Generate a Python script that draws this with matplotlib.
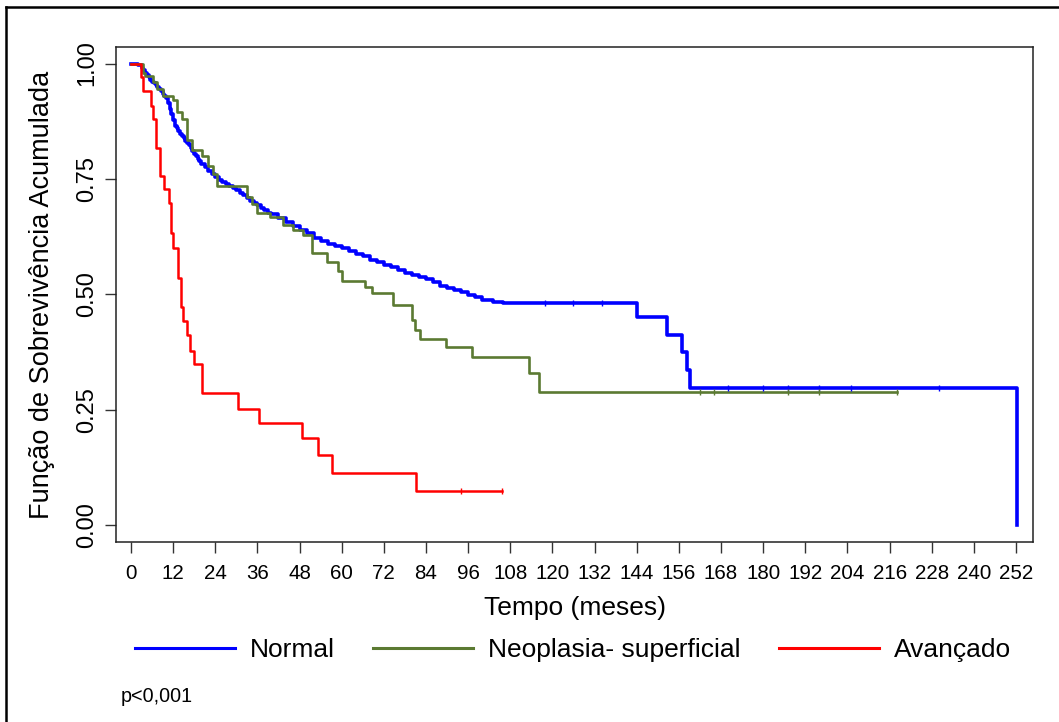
import numpy as np
import matplotlib.pyplot as plt
from matplotlib.lines import Line2D

plt.rcParams['font.family'] = ['Liberation Sans', 'DejaVu Sans']

# Kaplan-Meier curves (meses, sobrevivência)
normal_t = [0, 2, 3, 3.5, 4, 4.5, 5, 5.5, 6, 6.5, 7, 7.5, 8, 8.5, 9, 9.5, 10, 10.5, 11,
            11.5, 12, 12.5, 13, 13.5, 14, 14.5, 15, 15.5, 16, 16.5, 17, 17.5, 18, 18.5, 19, 19.5,
            20, 21, 22, 23, 24, 25, 26, 27, 28, 29, 30, 31, 32, 33, 34, 35, 36, 37, 38, 39, 40,
            42, 44, 46, 48, 50, 52, 54, 56, 58, 60, 62, 64, 66, 68, 70, 72, 74, 76, 78, 80, 82,
            84, 86, 88, 90, 92, 94, 96, 98, 100, 103, 106,
            144, 152.6, 157, 158.3, 159.2, 252.3]
normal_s = [1.0, 0.997, 0.99, 0.986, 0.98, 0.975, 0.97, 0.965, 0.96, 0.957, 0.953, 0.949, 0.945,
            0.94, 0.935, 0.93, 0.925, 0.915, 0.902, 0.89, 0.877, 0.865, 0.86,
            0.854, 0.848, 0.843, 0.838, 0.833, 0.828, 0.823, 0.817, 0.811, 0.805, 0.799, 0.793,
            0.788, 0.783, 0.776, 0.768, 0.761, 0.754, 0.748, 0.744, 0.739, 0.735, 0.73, 0.725,
            0.72, 0.715, 0.709, 0.703, 0.698, 0.693, 0.688, 0.682, 0.677, 0.673, 0.665, 0.657,
            0.648, 0.64, 0.632, 0.623, 0.615, 0.61, 0.605, 0.60, 0.594, 0.588, 0.582, 0.575,
            0.569, 0.564, 0.559, 0.552, 0.546, 0.541, 0.537, 0.533, 0.527, 0.518, 0.514, 0.51,
            0.504, 0.499, 0.494, 0.488, 0.484, 0.481, 0.45, 0.412, 0.375, 0.336, 0.297, 0.0]

neo_t = [0, 3.4, 4.0, 6.3, 7.4, 9.1, 12.0, 13.1, 14.5, 15.9, 17.4, 20.2, 21.9, 23.3, 24.5, 33.0,
         34.5, 35.9, 39.6, 43.3, 46.1, 49.0, 51.5, 55.8, 59.0, 60.0, 66.6, 68.6, 74.6, 80.0,
         80.9, 82.3, 89.8, 97.0, 113.3, 116.2, 218]
neo_s = [1.0, 0.98, 0.972, 0.96, 0.945, 0.93, 0.92, 0.894, 0.88, 0.835, 0.813, 0.80, 0.777, 0.76,
         0.735, 0.711, 0.695, 0.677, 0.668, 0.651, 0.64, 0.629, 0.59, 0.569, 0.55, 0.528, 0.516,
         0.503, 0.477, 0.445, 0.423, 0.403, 0.386, 0.364, 0.33, 0.289, 0.289]

avanc_t = [0, 2.85, 3.4, 5.7, 6.3, 7.1, 8.3, 9.4, 10.8, 11.4, 12.0, 13.4, 14.2, 14.8, 15.9, 16.8,
           18.0, 20.2, 30.5, 36.5, 48.7, 53.2, 57.3, 81.2, 105.6]
avanc_s = [1.0, 0.97, 0.94, 0.907, 0.88, 0.818, 0.757, 0.728, 0.698, 0.633, 0.60, 0.536, 0.473,
           0.442, 0.412, 0.377, 0.349, 0.286, 0.252, 0.221, 0.189, 0.152, 0.113, 0.074, 0.074]

# censuras (marcas)
normal_cens_t = [118, 126, 134, 170, 180, 187, 196, 205, 230]
neo_cens_t = [162, 166, 187, 196, 218]
avanc_cens_t = [94, 105.6]

xticks = np.arange(0, 253, 12)
yticks = [0.0, 0.25, 0.5, 0.75, 1.0]
ytick_labels = ['0.00', '0.25', '0.50', '0.75', '1.00']

c_normal = '#0000ff'
c_neo = '#5b7a32'
c_avanc = '#ff0000'

fig = plt.figure(figsize=(10.59, 7.22), dpi=100)
ax = fig.add_axes([116 / 1059, 1 - 542 / 722, (1033 - 116) / 1059, (542 - 47) / 722])

ax.plot(normal_t, normal_s, drawstyle='steps-post', color=c_normal, lw=2.6, label='Normal')
ax.plot(neo_t, neo_s, drawstyle='steps-post', color=c_neo, lw=1.9, label='Neoplasia- superficial')
ax.plot(avanc_t, avanc_s, drawstyle='steps-post', color=c_avanc, lw=1.8, label='Avançado')


def surv_at(ts, ss, t):
    i = np.searchsorted(ts, t, side='right') - 1
    return ss[i]


ax.plot(normal_cens_t, [surv_at(normal_t, normal_s, t) for t in normal_cens_t], ls='none',
        marker='|', ms=4, mew=1.0, color=c_normal)
ax.plot(neo_cens_t, [surv_at(neo_t, neo_s, t) for t in neo_cens_t], ls='none',
        marker='|', ms=4, mew=1.0, color=c_neo)
ax.plot(avanc_cens_t, [surv_at(avanc_t, avanc_s, t) for t in avanc_cens_t], ls='none',
        marker='|', ms=4, mew=1.0, color=c_avanc)

ax.set_xlim(-4.27, 256.84)
ax.set_ylim(-0.0368, 1.0358)
ax.set_xticks(xticks)
ax.set_xticklabels([str(v) for v in xticks], fontsize=14.8)
ax.set_yticks(yticks)
ax.set_yticklabels(ytick_labels, fontsize=17, rotation=90, va='center')
ax.tick_params(axis='both', length=8, width=1.0, color='#333333')
ax.tick_params(axis='x', pad=8)
ax.tick_params(axis='y', pad=5)
for s in ax.spines.values():
    s.set_linewidth(1.1)
    s.set_color('#222222')

ax.set_ylabel('Função de Sobrevivência Acumulada', fontsize=19.5)
ax.yaxis.set_label_coords(-0.066, 0.5)
ax.set_xlabel('Tempo (meses)', fontsize=19)
ax.xaxis.set_label_coords(0.5, -0.11)

handles = [Line2D([], [], color=c_normal, lw=2.2),
           Line2D([], [], color=c_neo, lw=2.2),
           Line2D([], [], color=c_avanc, lw=2.2)]
fig.legend(handles, ['Normal', 'Neoplasia- superficial', 'Avançado'], loc='center',
           bbox_to_anchor=(573 / 1059, 1 - 650 / 722), ncol=3, frameon=False, fontsize=19,
           handlelength=3.8, handletextpad=0.57, columnspacing=1.44, borderpad=0)

fig.text(121 / 1059, 1 - 697 / 722, 'p<0,001', fontsize=14.2, va='center', ha='left')

# moldura da figura (só esquerda e topo visíveis)
fig.add_artist(Line2D([6 / 1059, 6 / 1059], [0, 1 - 7 / 722], transform=fig.transFigure,
                      color='black', lw=1.8))
fig.add_artist(Line2D([6 / 1059, 1], [1 - 7 / 722, 1 - 7 / 722], transform=fig.transFigure,
                      color='black', lw=1.8))

fig.savefig('out.png', dpi=100)
